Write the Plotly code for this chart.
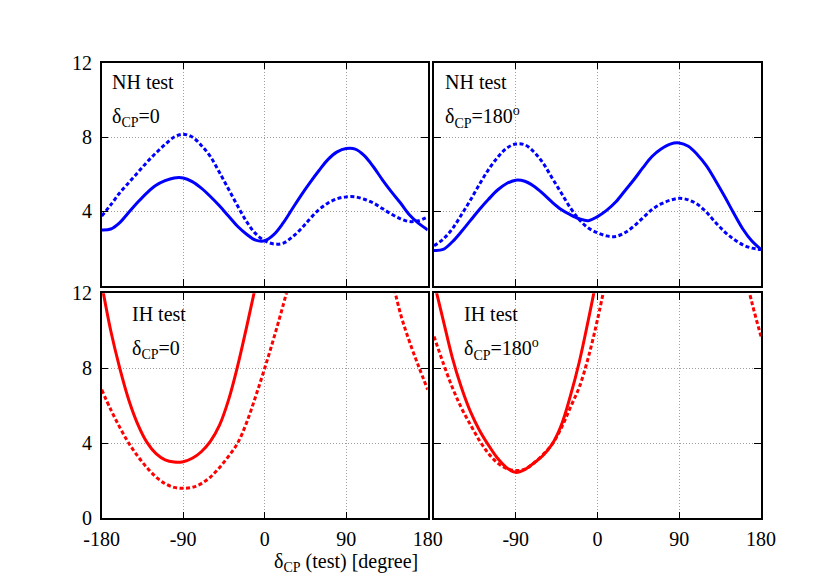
import plotly.graph_objects as go

# ---------------- data ----------------
delta_test = list(range(-180, 181, 10))

# Upper-left: NH test, delta_CP(true)=0
nh0_solid = [3.0, 3.05, 3.4, 3.95, 4.5, 5.0, 5.4, 5.65, 5.8, 5.8, 5.6, 5.25, 4.8, 4.3, 3.75, 3.2, 2.77, 2.45, 2.42,
             2.75, 3.35, 4.1, 4.85, 5.55, 6.2, 6.8, 7.2, 7.38, 7.35, 7.0, 6.4, 5.7, 5.05, 4.45, 3.8, 3.35, 3.0]
nh0_dotted = [3.75, 4.35, 5.0, 5.55, 6.1, 6.65, 7.15, 7.6, 8.0, 8.15, 8.0, 7.55, 6.95, 6.1, 5.2, 4.3, 3.45, 2.8, 2.42,
              2.25, 2.28, 2.6, 3.05, 3.6, 4.1, 4.45, 4.68, 4.78, 4.78, 4.65, 4.45, 4.15, 3.85, 3.6, 3.45, 3.5, 3.7]

# Upper-right: NH test, delta_CP(true)=180
nh180_solid = [1.9, 1.95, 2.35, 2.9, 3.5, 4.1, 4.65, 5.15, 5.5, 5.68, 5.62, 5.35, 4.95, 4.5, 4.1, 3.82, 3.6, 3.5,
               3.72, 4.05, 4.5, 5.1, 5.7, 6.35, 6.95, 7.35, 7.62, 7.68, 7.5, 7.05, 6.45, 5.65, 4.8, 3.9, 3.05, 2.4, 1.95]
nh180_dotted = [2.15, 2.5, 3.05, 3.8, 4.6, 5.45, 6.25, 6.9, 7.4, 7.62, 7.58, 7.2, 6.6, 5.8, 5.0, 4.2, 3.55, 3.1,
                2.85, 2.68, 2.65, 2.85, 3.2, 3.65, 4.1, 4.4, 4.6, 4.7, 4.62, 4.38, 3.95, 3.4, 2.9, 2.5, 2.2, 2.02, 1.95]

N = None
# Lower-left: IH test, delta_CP(true)=0  (values above 12 leave the frame)
ih0_solid = [12.5, 10.0, 8.0, 6.3, 5.0, 4.05, 3.45, 3.12, 3.0, 3.02, 3.2, 3.55, 4.1, 4.95, 6.3, 8.1, 10.2, 12.4, 14.7,
             N, N, N, N, N, N, N, N, N, N, N, N, N, N, N, N, N, N]
ih0_dotted = [6.86, 5.8, 4.85, 4.0, 3.3, 2.7, 2.2, 1.85, 1.65, 1.6, 1.65, 1.85, 2.2, 2.7, 3.3, 4.0, 5.1, 6.5, 8.0,
              9.6, 11.3, 13.1, N, N, N, N, N, N, N, N, N, N, 12.9, 10.9, 9.4, 8.1, 6.86]

# Lower-right: IH test, delta_CP(true)=180
ih180_solid = [12.6, 10.6, 8.6, 7.0, 5.7, 4.7, 3.9, 3.2, 2.7, 2.45, 2.6, 2.95, 3.35, 3.95, 4.95, 6.5, 8.35, 10.6, 13.0,
               N, N, N, N, N, N, N, N, N, N, N, N, N, N, N, N, N, N]
ih180_dotted = [9.7, 8.3, 7.0, 5.9, 5.0, 4.15, 3.45, 2.95, 2.65, 2.55, 2.62, 2.95, 3.4, 3.95, 4.8, 5.9, 7.0, 8.6,
                10.6, 12.9, N, N, N, N, N, N, N, N, N, N, N, N, N, N, 13.6, 11.5, 9.7]

x_ticks = [-180, -90, 0, 90, 180]
x_ticktext_left = ["-180", "-90", "0", "90", "180"]
x_ticktext_right = ["", "-90", "0", "90", "180"]
y_ticks = [0, 4, 8, 12]
y_ticktext_upper = ["", "4", "8", "12"]
y_ticktext_lower = ["0", "4", "8", "12"]

panel_labels = [
    ("NH test", "δ<sub>CP</sub>=0"),
    ("NH test", "δ<sub>CP</sub>=180<sup>o</sup>"),
    ("IH test", "δ<sub>CP</sub>=0"),
    ("IH test", "δ<sub>CP</sub>=180<sup>o</sup>"),
]
x_title = "δ<sub>CP</sub> (test) [degree]"

# ---------------- figure ----------------
W, H = 830, 581
OFF = 8.0  # page offset of the figure inside the browser window
FONT = "Liberation Serif"
BLUE = "#0000ff"
RED = "#ff0000"
DOT = "4px,2.5px"

fig = go.Figure()

panels = [
    ("x", "y", nh0_solid, nh0_dotted, BLUE),
    ("x2", "y2", nh180_solid, nh180_dotted, BLUE),
    ("x3", "y3", ih0_solid, ih0_dotted, RED),
    ("x4", "y4", ih180_solid, ih180_dotted, RED),
]
for xa, ya, sol, dot, col in panels:
    fig.add_trace(go.Scatter(x=delta_test, y=dot, xaxis=xa, yaxis=ya, mode="lines",
                             line=dict(color=col, width=3, dash=DOT, shape="spline", smoothing=1.0),
                             connectgaps=False, showlegend=False))
    fig.add_trace(go.Scatter(x=delta_test, y=sol, xaxis=xa, yaxis=ya, mode="lines",
                             line=dict(color=col, width=3, shape="spline", smoothing=1.0),
                             connectgaps=False, showlegend=False))

# domains in (screen) pixels
left_px = (101.7, 427.7)
right_px = (434.0, 761.0)
upper_px = (62.7, 285.7)
lower_px = (293.3, 518.3)


def fx(p):
    return (p - OFF) / W


def fy(p):
    return 1 - (p - OFF) / H


def xd(p):
    return [fx(p[0]), fx(p[1])]


def yd(p):
    return [fy(p[1]), fy(p[0])]


common_axis = dict(showline=True, linecolor="black", linewidth=1.5, mirror="ticks",
                   ticks="inside", ticklen=7, tickwidth=1.2, tickcolor="black",
                   showgrid=True, gridcolor="#a0a0a0", griddash="1px,2px", gridwidth=1,
                   zeroline=False, automargin=False,
                   tickfont=dict(family=FONT, size=20, color="black"))

specs = {
    "xaxis": dict(domain=xd(left_px), anchor="y", ticktext=["", "", "", "", ""]),
    "xaxis2": dict(domain=xd(right_px), anchor="y2", ticktext=["", "", "", "", ""]),
    "xaxis3": dict(domain=xd(left_px), anchor="y3", ticktext=x_ticktext_left),
    "xaxis4": dict(domain=xd(right_px), anchor="y4", ticktext=x_ticktext_right),
    "yaxis": dict(domain=yd(upper_px), anchor="x", ticktext=y_ticktext_upper),
    "yaxis2": dict(domain=yd(upper_px), anchor="x2", ticktext=["", "", "", ""]),
    "yaxis3": dict(domain=yd(lower_px), anchor="x3", ticktext=y_ticktext_lower),
    "yaxis4": dict(domain=yd(lower_px), anchor="x4", ticktext=["", "", "", ""]),
}
for name, s in specs.items():
    d = dict(common_axis)
    d.update(s)
    if name.startswith("x"):
        d.update(range=[-180, 180], tickmode="array", tickvals=x_ticks, ticklabelstandoff=2)
    else:
        d.update(range=[0, 12], tickmode="array", tickvals=y_ticks, ticklabelstandoff=4)
    fig.layout[name] = d

# panel texts
label_pos = [
    ((110.0, 82.0), (110.0, 117.0)),
    ((442.7, 82.0), (442.7, 117.0)),
    ((130.0, 314.0), (130.0, 349.0)),
    ((461.7, 314.0), (461.7, 349.0)),
]
annotations = []
for (t1, t2), (p1, p2) in zip(panel_labels, label_pos):
    for txt, (px, py) in ((t1, p1), (t2, p2)):
        annotations.append(dict(text=txt, x=fx(px), y=fy(py), xref="paper", yref="paper",
                                xanchor="left", yanchor="middle", showarrow=False,
                                font=dict(family=FONT, size=20, color="black")))
annotations.append(dict(text=x_title, x=fx(346), y=fy(562), xref="paper", yref="paper",
                        xanchor="center", yanchor="middle", showarrow=False,
                        font=dict(family=FONT, size=20, color="black")))

fig.update_layout(width=W, height=H, margin=dict(l=0, r=0, t=0, b=0),
                  paper_bgcolor="white", plot_bgcolor="white",
                  font=dict(family=FONT, size=20, color="black"),
                  annotations=annotations)

fig.write_html("out.html")
